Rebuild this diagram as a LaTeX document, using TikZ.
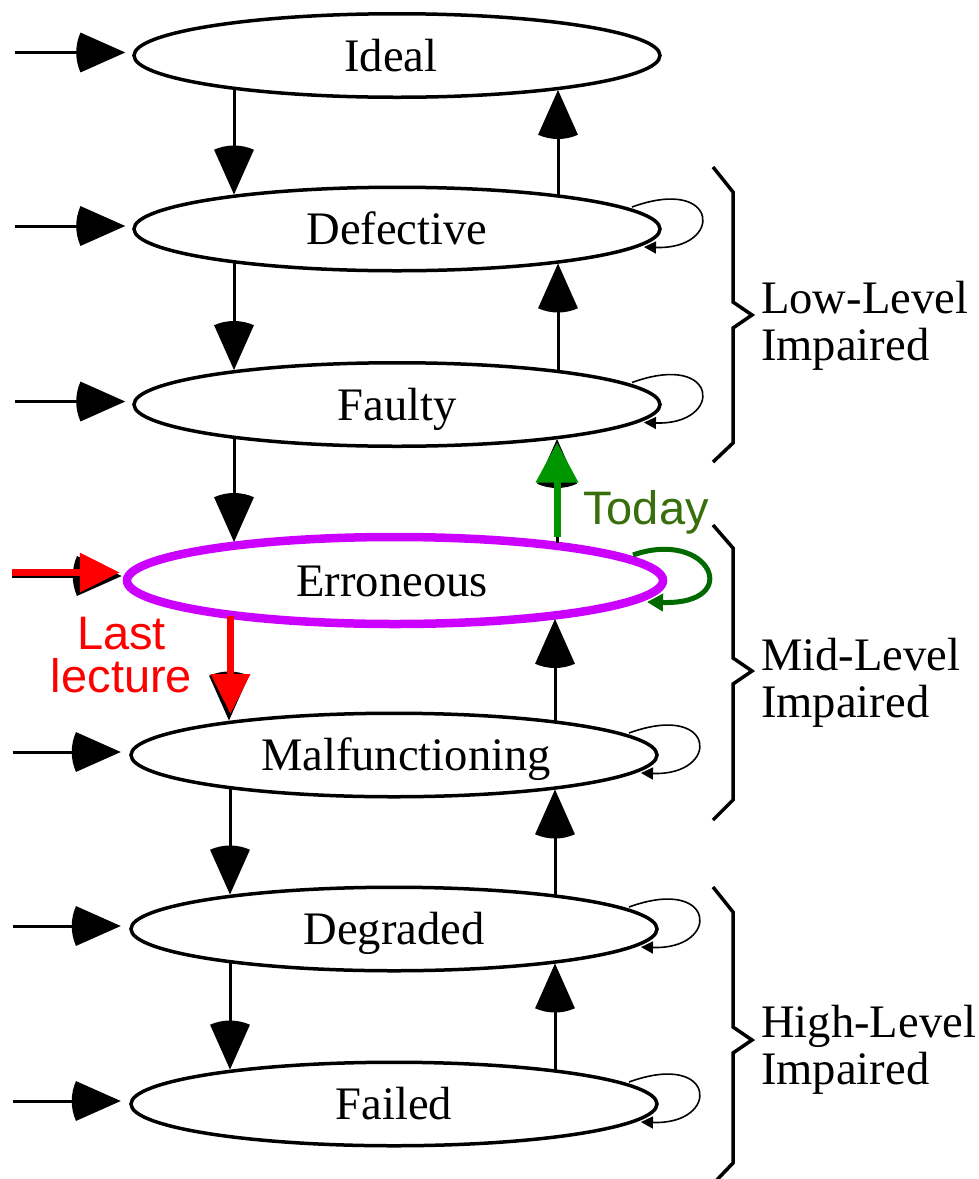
\documentclass[tikz,border=0pt]{standalone}
\usepackage{fontspec}
\setmainfont{Liberation Serif}
\newfontfamily\labelsans{Liberation Sans}
\usetikzlibrary{arrows.meta,shapes.geometric}

% filled fan-shaped head: a circular sector centred on the tip
\pgfdeclarearrow{
  name = Fan,
  parameters = {\the\pgfarrowlength},
  setup code = {
    \pgfarrowssettipend{0pt}
    \pgfarrowssetlineend{-0.6\pgfarrowlength}
    \pgfarrowssetvisualbackend{-\pgfarrowlength}
    \pgfarrowssetbackend{-\pgfarrowlength}
    \pgfarrowshullpoint{0pt}{0pt}
    \pgfarrowsupperhullpoint{-\pgfarrowlength}{0.42\pgfarrowlength}
    \pgfarrowssavethe\pgfarrowlength
  },
  drawing code = {
    \pgfpathmoveto{\pgfpointorigin}
    \pgfpathlineto{\pgfpointpolar{156}{\pgfarrowlength}}
    \pgfpatharc{156}{204}{\pgfarrowlength}
    \pgfpathclose
    \pgfusepathqfill
  },
  defaults = {length = 49pt}
}

\definecolor{errmag}{RGB}{204,0,255}
\definecolor{upgreen}{RGB}{0,150,0}
\definecolor{loopgreen}{RGB}{0,105,0}
\definecolor{todaytext}{RGB}{56,110,12}
\definecolor{lastred}{RGB}{255,0,0}

\newcommand\statefont{\fontsize{46.6pt}{52pt}\selectfont}
\newcommand\notefont{\labelsans\fontsize{47pt}{42.5pt}\selectfont}

\tikzset{
  stbox/.style={ellipse, draw, line width=3.5pt, minimum width=526pt,
    minimum height=83.5pt, inner sep=0pt, font=\statefont,
    text height=31pt, text depth=0pt},
  conn/.style={line width=3pt, -{Fan[length=49pt]}},
  selfloop/.style={line width=1.6pt, -{Triangle[length=12pt,width=12pt]}},
  brc/.style={line width=3.5pt, line join=miter},
  grouplbl/.style={anchor=base west, inner sep=0pt, font=\statefont},
  redover/.style={line width=7pt, draw=lastred,
    -{Triangle[length=40pt,width=38pt,fill=lastred]}},
  greenover/.style={line width=7pt, draw=upgreen,
    -{Triangle[length=40pt,width=41pt,fill=upgreen]}},
}

\begin{document}
\begin{tikzpicture}[x=1pt,y=1pt]
\useasboundingbox (0,0) rectangle (979,-1179);

% states
\node[stbox] (ideal)     at (397,-55.5)  {Ideal\hspace*{12pt}};
\node[stbox] (defective) at (397,-229)   {Defective};
\node[stbox] (faulty)    at (397,-404.5) {Faulty};
\node[stbox, draw=errmag, line width=8.5pt, minimum width=536pt,
      minimum height=87pt] (erroneous) at (395,-580.5) {Erroneous\hspace*{6pt}};
\node[stbox] (malf)      at (394,-755)   {\hspace*{24pt}Malfunctioning};
\node[stbox] (degraded)  at (394,-929)   {Degraded};
\node[stbox] (failed)    at (394,-1104)  {Failed};

% entry points
\coordinate (in1) at (15,-52.5);
\coordinate (in2) at (15,-226);
\coordinate (in3) at (15,-401.5);
\coordinate (in4) at (12,-576);
\coordinate (in5) at (12.5,-752);
\coordinate (in6) at (12.5,-926);
\coordinate (in7) at (12.5,-1101);

\draw[conn, shorten >=7pt]   (in1) -- ([yshift=3pt]ideal.west);
\draw[conn, shorten >=7pt]   (in2) -- ([yshift=3pt]defective.west);
\draw[conn, shorten >=7pt]   (in3) -- ([yshift=3pt]faulty.west);
\draw[conn, shorten >=1pt]   (in4) -- ([yshift=4.5pt]erroneous.west);
\draw[conn, shorten >=8.5pt] (in5) -- ([yshift=3pt]malf.west);
\draw[conn, shorten >=8.5pt] (in6) -- ([yshift=3pt]degraded.west);
\draw[conn, shorten >=8.5pt] (in7) -- ([yshift=3pt]failed.west);

% transitions between neighbouring states
\draw[conn] ([shift={(-163,-33)}]ideal.center)     -- ([shift={(-163,34.5)}]defective.center);
\draw[conn] ([shift={(161,33)}]defective.center)   -- ([shift={(161,-34.5)}]ideal.center);
\draw[conn] ([shift={(-163,-33)}]defective.center) -- ([shift={(-163,34.5)}]faulty.center);
\draw[conn] ([shift={(161,33)}]faulty.center)      -- ([shift={(161,-34.5)}]defective.center);
\draw[conn] ([shift={(-163,-33)}]faulty.center)    -- ([shift={(-161,38.5)}]erroneous.center);
\draw[conn] ([shift={(162,38)}]erroneous.center)   -- ([shift={(160,-34.5)}]faulty.center);
\draw[conn] ([shift={(-166,-37)}]erroneous.center) -- ([shift={(-165,34.5)}]malf.center);
\draw[conn] ([shift={(161,33)}]malf.center)        -- ([shift={(160,-38.5)}]erroneous.center);
\draw[conn] ([shift={(-164,-33)}]malf.center)      -- ([shift={(-164,34.5)}]degraded.center);
\draw[conn] ([shift={(161,33)}]degraded.center)    -- ([shift={(161,-34.5)}]malf.center);
\draw[conn] ([shift={(-164,-33)}]degraded.center)  -- ([shift={(-164,34.5)}]failed.center);
\draw[conn] ([shift={(161,33)}]failed.center)      -- ([shift={(161,-34.5)}]degraded.center);

% self transitions
\foreach \s in {defective,faulty,malf,degraded,failed}
  \draw[selfloop] ([shift={(235,22)}]\s.center) .. controls +(88,32) and +(80,-3)
    .. ([shift={(247,-18)}]\s.center);
\draw[line width=5pt, draw=loopgreen,
      -{Triangle[length=16pt,width=17pt,fill=loopgreen]}]
  ([shift={(238,25.5)}]erroneous.center) .. controls +(77,27) and +(98,-3)
    .. ([shift={(252,-21.5)}]erroneous.center);

% highlighted transitions
\draw[redover, shorten >=3pt] ([yshift=3.5pt]in4) -- ([yshift=8pt]erroneous.west);
\draw[redover] ([shift={(-164.5,-35)}]erroneous.center) -- ([shift={(-163.5,41)}]malf.center);
\draw[greenover, shorten <=5.5pt, shorten >=3.5pt]
  ([shift={(162,38)}]erroneous.center) -- ([shift={(160,-34.5)}]faulty.center);

% the base anchor of this two-line note sits on its last line
\node[anchor=base, align=center, inner sep=0pt, font=\notefont, text=lastred]
  (lastlecture) at (121.5,-692) {Last\\lecture};
\node[anchor=base west, inner sep=0pt, font=\notefont, text=todaytext] (today) at (583,-524) {Today};

% impairment groups
\draw[brc] (713,-167) -- (733,-192) -- (733,-302) -- (752,-315) -- (733,-328) -- (733,-443) -- (713,-462);
\draw[brc] (713,-525) -- (733,-548) -- (733,-658) -- (752,-671) -- (733,-684) -- (733,-800) -- (713,-820);
\draw[brc] (713,-887) -- (733,-912) -- (733,-1027) -- (752,-1040) -- (733,-1053) -- (733,-1163) -- (713,-1184);

\node[grouplbl] (lowa)  at (761,-313)  {Low-Level};
\node[grouplbl] (lowb)  at (761,-360)  {Impaired};
\node[grouplbl] (mida)  at (761,-670)  {Mid-Level};
\node[grouplbl] (midb)  at (761,-717)  {Impaired};
\node[grouplbl] (higha) at (761,-1037) {High-Level};
\node[grouplbl] (highb) at (761,-1084) {Impaired};
\end{tikzpicture}
\end{document}
